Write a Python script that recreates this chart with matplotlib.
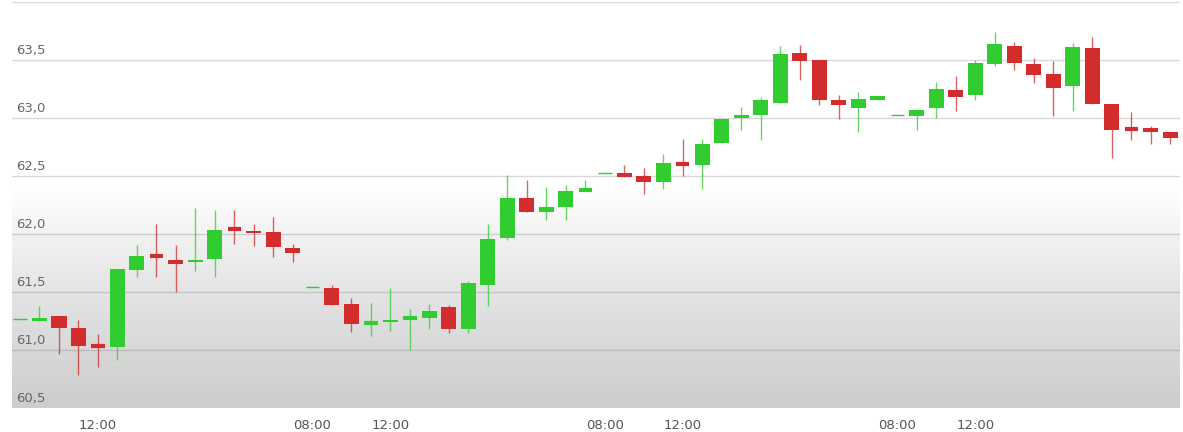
import numpy as np
import matplotlib
matplotlib.use("Agg")
import matplotlib.pyplot as plt
import matplotlib.transforms as mtransforms
from matplotlib.colors import LinearSegmentedColormap

# hourly candles, 08:00..22:00 per trading day, 4 days
opens = [61.27, 61.25, 61.30, 61.19, 61.04, 61.03, 61.695, 61.815, 61.775, 61.76,
         61.79, 62.045, 62.03, 62.02, 61.88, 61.55, 61.535, 61.40, 61.235, 61.24,
         61.275, 61.275, 61.37, 61.18, 61.565, 61.965, 62.31, 62.195, 62.235, 62.38,
         62.53, 62.53, 62.50, 62.455, 62.605, 62.60, 62.79, 63.00, 63.03, 63.135,
         63.565, 63.50, 63.155, 63.085, 63.16, 63.03, 63.02, 63.085, 63.245, 63.20,
         63.465, 63.625, 63.465, 63.38, 63.275, 63.605, 63.125, 62.91, 62.915, 62.885]
highs = [61.27, 61.385, 61.30, 61.26, 61.14, 61.70, 61.91, 62.09, 61.91, 62.23,
         62.21, 62.21, 62.09, 62.15, 61.92, 61.55, 61.56, 61.45, 61.41, 61.54,
         61.36, 61.40, 61.39, 61.595, 62.09, 62.515, 62.47, 62.41, 62.425, 62.465,
         62.53, 62.60, 62.575, 62.695, 62.825, 62.82, 62.99, 63.10, 63.18, 63.62,
         63.63, 63.50, 63.20, 63.23, 63.19, 63.03, 63.07, 63.315, 63.365, 63.505,
         63.74, 63.66, 63.52, 63.49, 63.65, 63.70, 63.125, 63.057, 62.935, 62.885]
lows = [61.27, 61.25, 60.97, 60.79, 60.86, 60.92, 61.635, 61.635, 61.50, 61.685,
        61.635, 61.92, 61.90, 61.805, 61.76, 61.55, 61.39, 61.16, 61.12, 61.165,
        61.00, 61.18, 61.15, 61.145, 61.38, 61.95, 62.19, 62.125, 62.12, 62.375,
        62.53, 62.49, 62.345, 62.39, 62.505, 62.39, 62.79, 62.90, 62.81, 63.135,
        63.33, 63.115, 62.99, 62.885, 63.16, 63.03, 62.895, 63.00, 63.065, 63.155,
        63.45, 63.415, 63.305, 63.02, 63.06, 63.125, 62.66, 62.815, 62.78, 62.78]
closes = [61.27, 61.28, 61.19, 61.04, 61.035, 61.70, 61.81, 61.805, 61.74, 61.78,
          62.04, 62.04, 62.01, 61.89, 61.835, 61.55, 61.39, 61.23, 61.24, 61.265,
          61.28, 61.34, 61.18, 61.58, 61.96, 62.31, 62.19, 62.235, 62.375, 62.385,
          62.53, 62.49, 62.455, 62.615, 62.60, 62.775, 62.99, 63.03, 63.16, 63.555,
          63.49, 63.155, 63.115, 63.17, 63.19, 63.03, 63.07, 63.255, 63.18, 63.48,
          63.64, 63.48, 63.37, 63.265, 63.615, 63.125, 62.90, 62.905, 62.88, 62.83]

xtick_pos = [4, 15, 19, 30, 34, 45, 49]
xtick_labels = ["12:00", "08:00", "12:00", "08:00", "12:00", "08:00", "12:00"]
ytick_vals = [60.5, 61.0, 61.5, 62.0, 62.5, 63.0, 63.5]
ytick_labels = ["60,5", "61,0", "61,5", "62,0", "62,5", "63,0", "63,5"]

GREEN = "#30cc30"
RED = "#d22c2c"

fig = plt.figure(figsize=(11.83, 4.32), dpi=100)
ax = fig.add_axes([12 / 1183, 23.7 / 432, 1168 / 1183, 406 / 432])
ymin, ymax = 60.5, 64.0
xmin, xmax = -0.41, 59.49
ax.set_xlim(xmin, xmax)
ax.set_ylim(ymin, ymax)

# background gradient: white on top, grey at the bottom
cmap = LinearSegmentedColormap.from_list(
    "bg", [(0.0, "#cdcdcd"), (0.143, "#d8d8d8"), (0.2857, "#e4e4e4"),
           (0.4286, "#f2f2f2"), (0.5, "#fbfbfb"), (0.54, "#ffffff"), (1.0, "#ffffff")])
grad = np.linspace(0, 1, 512).reshape(-1, 1)
ax.imshow(grad, aspect="auto", cmap=cmap, origin="lower",
          extent=[xmin, xmax, ymin, ymax], zorder=0, interpolation="bilinear")

for v in ytick_vals[1:] + [64.0]:
    ax.axhline(v, color="#808080", alpha=0.3, lw=1.0, zorder=1)

offset = mtransforms.ScaledTranslation(0, 3 / 100, fig.dpi_scale_trans)
tr = mtransforms.blended_transform_factory(ax.transAxes, ax.transData) + offset
for v, lab in zip(ytick_vals, ytick_labels):
    ax.text(4 / 1168, v, lab, transform=tr, ha="left", va="bottom",
            fontsize=9.5, color="#666666", zorder=5)

w = 0.77
for i, (o, h, l, c) in enumerate(zip(opens, highs, lows, closes)):
    col = GREEN if c >= o else RED
    ax.vlines(i, l, h, color=col, lw=1.0, alpha=0.75, zorder=2)
    bottom = min(o, c)
    height = abs(c - o)
    if height < 0.012:
        ax.hlines((o + c) / 2, i - w / 2 + 0.05, i + w / 2 - 0.05, color=col,
                  lw=1.0 if height < 0.004 else 3.0, zorder=3)
    else:
        ax.bar(i, height, width=w, bottom=bottom, color=col, edgecolor="none", zorder=3)

ax.set_xticks(xtick_pos)
ax.set_xticklabels(xtick_labels, fontsize=9.5, color="#555555")
ax.tick_params(axis="x", length=0, pad=8)
ax.set_yticks([])
for s in ax.spines.values():
    s.set_visible(False)

fig.savefig("out.png", dpi=100)
